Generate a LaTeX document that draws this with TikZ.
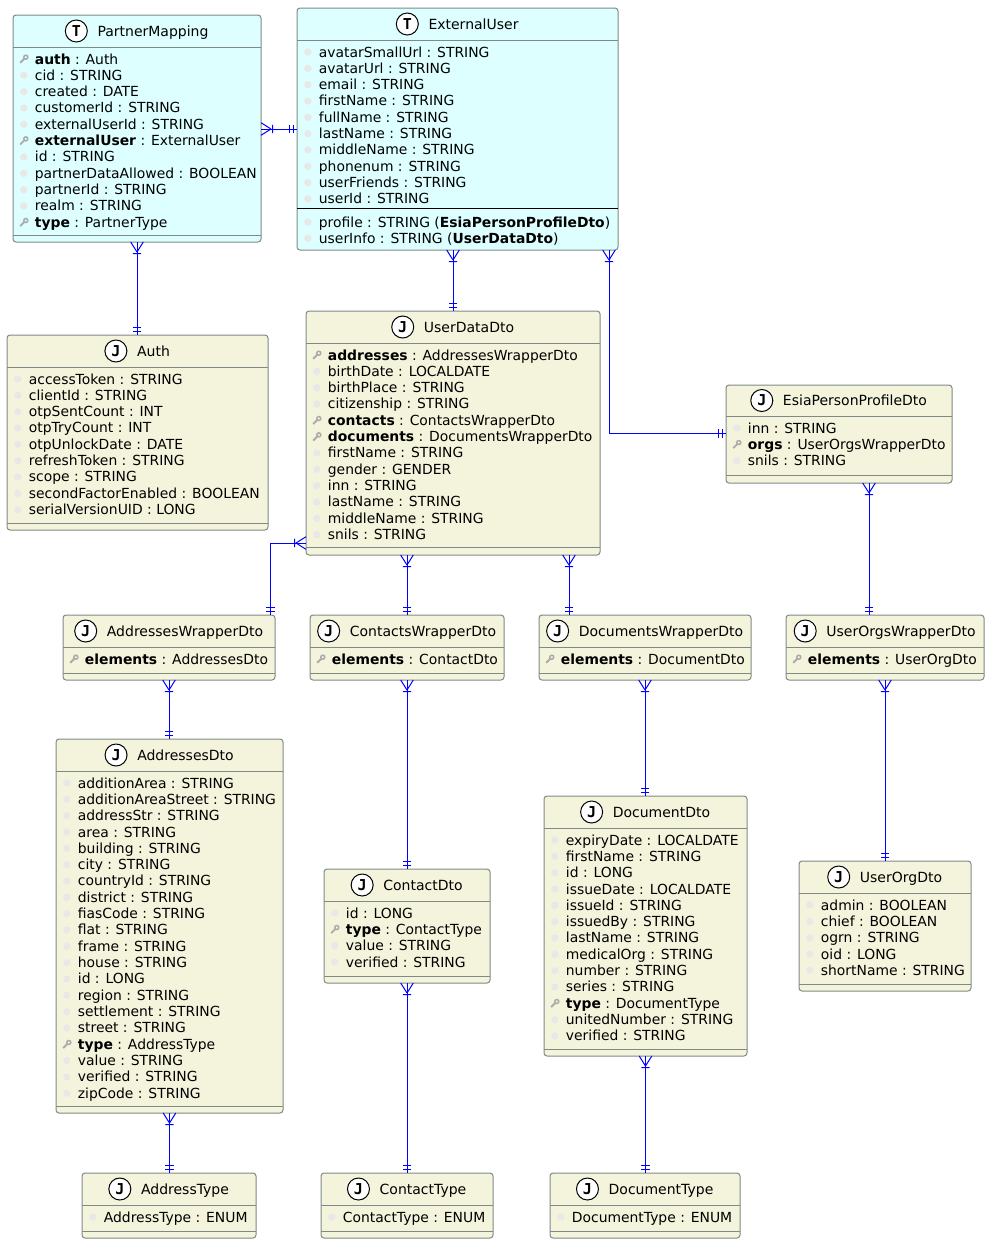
\documentclass[tikz,border=0pt]{standalone}
\usepackage{fontspec}
\setmainfont{DejaVu Sans}
\newfontfamily\iconfont{DejaVu Sans Mono}
\definecolor{boxline}{HTML}{7F8A85}
\definecolor{tfill}{HTML}{DDFFFF}
\definecolor{jfill}{HTML}{F4F4DC}
\definecolor{dotgrey}{HTML}{E8E8E8}
\definecolor{keygrey}{HTML}{ABABAB}
\pgfdeclarearrow{name=CrowFoot,
  setup code={\pgfarrowssettipend{0pt}\pgfarrowssetbackend{-12pt}\pgfarrowssetlineend{0pt}},
  drawing code={\pgfsetdash{}{0pt}\pgfsetbuttcap
    \pgfpathmoveto{\pgfpoint{-10pt}{0pt}}\pgfpathlineto{\pgfpoint{0pt}{6.3pt}}
    \pgfpathmoveto{\pgfpoint{-10pt}{0pt}}\pgfpathlineto{\pgfpoint{0pt}{-6.3pt}}
    \pgfpathmoveto{\pgfpoint{-11.5pt}{4.2pt}}\pgfpathlineto{\pgfpoint{-11.5pt}{-4.2pt}}
    \pgfusepathqstroke}}
\pgfdeclarearrow{name=DoubleBar,
  setup code={\pgfarrowssettipend{0pt}\pgfarrowssetbackend{-9pt}\pgfarrowssetlineend{0pt}},
  drawing code={\pgfsetdash{}{0pt}\pgfsetbuttcap
    \pgfpathmoveto{\pgfpoint{-4pt}{4.2pt}}\pgfpathlineto{\pgfpoint{-4pt}{-4.2pt}}
    \pgfpathmoveto{\pgfpoint{-8pt}{4.2pt}}\pgfpathlineto{\pgfpoint{-8pt}{-4.2pt}}
    \pgfusepathqstroke}}
\tikzset{
  x=1pt,y=-1pt,
  fillT/.style={fill=tfill},
  fillJ/.style={fill=jfill},
  entitybox/.style={draw=boxline,line width=1pt,rounded corners=3pt,inner sep=0pt,outer sep=0pt},
  divider/.style={draw=boxline,line width=1pt},
  titletext/.style={font=\fontsize{14}{16}\selectfont,inner sep=0pt,text height=10pt,text depth=0pt},
  icon/.style={circle,draw=black,fill=white,line width=1pt,minimum size=22pt,inner sep=0pt,font=\iconfont\bfseries\fontsize{15}{16}\selectfont},
  rowtext/.style={font=\fontsize{13.9}{16}\selectfont,inner sep=0pt,anchor=base west},
  rel/.style={draw=blue,line width=1pt,{CrowFoot[]}-{DoubleBar[]}},
}
\newcount\rowno
\newcommand\entity[9]{%
  \node[entitybox,fill#8,minimum width={(#4-#2)*1pt},minimum height={(#5-#3)*1pt}] (#1) at ({(#2+#4)/2},{(#3+#5)/2}) {};
  \draw[divider] (#2,#6) -- (#4,#6);
  \draw[divider] (#2,#7) -- (#4,#7);
  \node[titletext] (#1-title) at ({(#2+#4)/2},{(#3+#6)/2}) {\hspace{32pt}#9};
  \node[icon] (#1-icon) at ([xshift=11pt]#1-title.west) {#8};
}
\newcommand\startrows[2]{\pgfmathsetmacro\rx{#1}\pgfmathsetmacro\ry{#2}}
\newcommand\advrow{\pgfmathsetmacro\ry{\ry+16.33}\global\advance\rowno by 1 }
\newcommand\R[1]{%
  \fill[dotgrey] (\rx+10.8,\ry) circle (3.7pt);
  \node[rowtext] (row\the\rowno) at (\rx+21.7,\ry+5) {#1};
  \advrow}
\newcommand\K[2]{%
  \begin{scope}[shift={(\rx+10.8,\ry)}]
    \draw[keygrey,line width=1.9pt] (-3.6,3.8) -- (1,-0.8);
    \draw[keygrey,line width=1.5pt] (2,-1.8) circle (2pt);
  \end{scope}
  \node[rowtext] (row\the\rowno) at (\rx+21.7,\ry+5) {\textbf{#1} : #2};
  \advrow}
\begin{document}
\begin{tikzpicture}
\useasboundingbox (0,0) rectangle (989,1243);

\entity{pm}{13}{15}{261}{242}{47}{235}{T}{PartnerMapping}
\startrows{13}{59}
\K{auth}{Auth}
\R{cid : STRING}
\R{created : DATE}
\R{customerId : STRING}
\R{externalUserId : STRING}
\K{externalUser}{ExternalUser}
\R{id : STRING}
\R{partnerDataAllowed : BOOLEAN}
\R{partnerId : STRING}
\R{realm : STRING}
\K{type}{PartnerType}

\node[entitybox,fillT,minimum width=321pt,minimum height=242pt] (eu) at (457.5,129) {};
\draw[divider] (297,40) -- (618,40);
\draw[draw=black,line width=1pt] (297,208) -- (618,208);
\node[titletext] (eu-title) at (457.5,24) {\hspace{32pt}ExternalUser};
\node[icon] (eu-icon) at ([xshift=11pt]eu-title.west) {T};
\startrows{297}{52}
\R{avatarSmallUrl : STRING}
\R{avatarUrl : STRING}
\R{email : STRING}
\R{firstName : STRING}
\R{fullName : STRING}
\R{lastName : STRING}
\R{middleName : STRING}
\R{phonenum : STRING}
\R{userFriends : STRING}
\R{userId : STRING}
\startrows{297}{222}
\R{profile : STRING (\textbf{EsiaPersonProfileDto})}
\R{userInfo : STRING (\textbf{UserDataDto})}

\entity{auth}{7}{335}{268}{530}{367}{523}{J}{Auth}
\startrows{7}{379}
\R{accessToken : STRING}
\R{clientId : STRING}
\R{otpSentCount : INT}
\R{otpTryCount : INT}
\R{otpUnlockDate : DATE}
\R{refreshToken : STRING}
\R{scope : STRING}
\R{secondFactorEnabled : BOOLEAN}
\R{serialVersionUID : LONG}

\entity{ud}{306}{311}{600}{555}{343}{547}{J}{UserDataDto}
\startrows{306}{355}
\K{addresses}{AddressesWrapperDto}
\R{birthDate : LOCALDATE}
\R{birthPlace : STRING}
\R{citizenship : STRING}
\K{contacts}{ContactsWrapperDto}
\K{documents}{DocumentsWrapperDto}
\R{firstName : STRING}
\R{gender : GENDER}
\R{inn : STRING}
\R{lastName : STRING}
\R{middleName : STRING}
\R{snils : STRING}

\entity{esia}{726}{385}{952}{483}{416}{475}{J}{EsiaPersonProfileDto}
\startrows{726}{428}
\R{inn : STRING}
\K{orgs}{UserOrgsWrapperDto}
\R{snils : STRING}

\entity{aw}{63}{615}{275}{680}{647}{673}{J}{AddressesWrapperDto}
\startrows{63}{659}
\K{elements}{AddressesDto}

\entity{cw}{310}{615}{504}{680}{647}{673}{J}{ContactsWrapperDto}
\startrows{310}{659}
\K{elements}{ContactDto}

\entity{dw}{539}{615}{751}{680}{647}{673}{J}{DocumentsWrapperDto}
\startrows{539}{659}
\K{elements}{DocumentDto}

\entity{uw}{786}{615}{984}{680}{647}{673}{J}{UserOrgsWrapperDto}
\startrows{786}{659}
\K{elements}{UserOrgDto}

\entity{ad}{56}{739}{283}{1113}{771}{1106}{J}{AddressesDto}
\startrows{56}{783}
\R{additionArea : STRING}
\R{additionAreaStreet : STRING}
\R{addressStr : STRING}
\R{area : STRING}
\R{building : STRING}
\R{city : STRING}
\R{countryId : STRING}
\R{district : STRING}
\R{fiasCode : STRING}
\R{flat : STRING}
\R{frame : STRING}
\R{house : STRING}
\R{id : LONG}
\R{region : STRING}
\R{settlement : STRING}
\R{street : STRING}
\K{type}{AddressType}
\R{value : STRING}
\R{verified : STRING}
\R{zipCode : STRING}

\entity{cd}{324}{869}{490}{983}{901}{976}{J}{ContactDto}
\startrows{324}{913}
\R{id : LONG}
\K{type}{ContactType}
\R{value : STRING}
\R{verified : STRING}

\entity{dd}{544}{796}{747}{1056}{828}{1049}{J}{DocumentDto}
\startrows{544}{840}
\R{expiryDate : LOCALDATE}
\R{firstName : STRING}
\R{id : LONG}
\R{issueDate : LOCALDATE}
\R{issueId : STRING}
\R{issuedBy : STRING}
\R{lastName : STRING}
\R{medicalOrg : STRING}
\R{number : STRING}
\R{series : STRING}
\K{type}{DocumentType}
\R{unitedNumber : STRING}
\R{verified : STRING}

\entity{uo}{799}{861}{971}{991}{893}{984}{J}{UserOrgDto}
\startrows{799}{905}
\R{admin : BOOLEAN}
\R{chief : BOOLEAN}
\R{ogrn : STRING}
\R{oid : LONG}
\R{shortName : STRING}

\entity{at}{82}{1173}{256}{1238}{1205}{1231}{J}{AddressType}
\startrows{82}{1217}
\R{AddressType : ENUM}

\entity{ct}{321}{1173}{493}{1238}{1205}{1231}{J}{ContactType}
\startrows{321}{1217}
\R{ContactType : ENUM}

\entity{dt}{550}{1173}{740}{1238}{1205}{1231}{J}{DocumentType}
\startrows{550}{1217}
\R{DocumentType : ENUM}

% connectors
\coordinate (pmE) at ([yshift=-0.5pt]pm.east);
\draw[rel] (pmE) -- (pmE -| eu.west);
\coordinate (pmS) at (pm.south);
\draw[rel] (pmS) -- (pmS |- auth.north);
\coordinate (euA) at (ud.north |- eu.south);
\draw[rel] (euA) -- (ud.north);
\coordinate (euB) at (609,250);
\coordinate (esW) at ([yshift=0.7pt]esia.west);
\draw[rel] (euB) |- (esW);
\coordinate (udW) at (306,543);
\coordinate (awN) at (270.5,615);
\draw[rel] (udW) -| (awN);
\coordinate (cwN) at (cw.north);
\draw[rel] (cwN |- ud.south) -- (cwN);
\coordinate (dwT) at (569,615);
\draw[rel] (dwT |- ud.south) -- (dwT);
\coordinate (uwT) at (869,615);
\draw[rel] (uwT |- esia.south) -- (uwT);
\coordinate (awS) at (169,680);
\draw[rel] (awS) -- (awS |- ad.north);
\draw[rel] (cw.south) -- (cw.south |- cd.north);
\draw[rel] (dw.south) -- (dw.south |- dd.north);
\draw[rel] (uw.south) -- (uw.south |- uo.north);
\draw[rel] (ad.south) -- (ad.south |- at.north);
\draw[rel] (cd.south) -- (cd.south |- ct.north);
\draw[rel] (dd.south) -- (dd.south |- dt.north);
\end{tikzpicture}
\end{document}
